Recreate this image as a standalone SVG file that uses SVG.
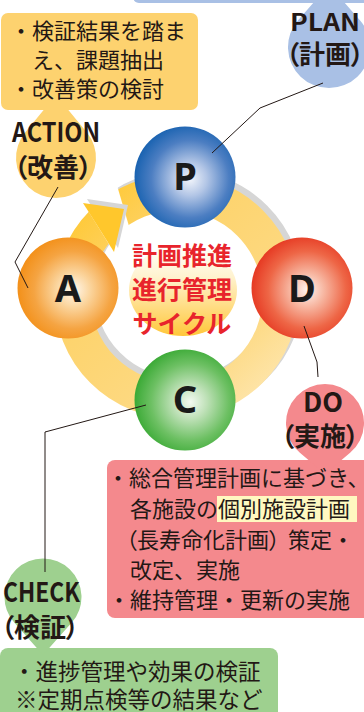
<svg xmlns="http://www.w3.org/2000/svg" width="364" height="712" viewBox="0 0 364 712">
<defs>
<style>
.jp{font-family:"Noto Sans CJK JP","Noto Sans",sans-serif;fill:#231815;}
.b22{font-size:22px;}
.lbl{font-family:"Noto Sans CJK JP","Noto Sans",sans-serif;font-weight:700;fill:#231815;}
.palt{font-feature-settings:"palt" 1;}
.conn{fill:none;stroke:#231815;stroke-width:1;}
.letter{font-family:"Noto Sans","Liberation Sans",sans-serif;font-weight:700;font-size:38px;fill:#1a1a1a;text-anchor:middle;}
.red{font-family:"Noto Sans CJK JP",sans-serif;font-weight:700;font-size:25px;fill:#E8242C;text-anchor:middle;}
</style>
<linearGradient id="band" gradientUnits="userSpaceOnUse" x1="80" y1="190" x2="280" y2="400">
<stop offset="0" stop-color="#FFC72C"/><stop offset="0.3" stop-color="#FDD36B"/><stop offset="0.75" stop-color="#FDDA85"/><stop offset="1" stop-color="#FEE8B5"/>
</linearGradient>
<linearGradient id="ctr" x1="0" y1="0" x2="0" y2="1">
<stop offset="0" stop-color="#FFFFFF"/><stop offset="0.35" stop-color="#FFF3D0"/><stop offset="1" stop-color="#FFC73A"/>
</linearGradient>
<radialGradient id="gP" cx="0.55" cy="0.52" r="0.55"><stop offset="0" stop-color="#F2F5FB"/><stop offset="0.3" stop-color="#B3C6E6"/><stop offset="0.7" stop-color="#4C7EC2"/><stop offset="1" stop-color="#1A63B1"/></radialGradient>
<radialGradient id="gA" cx="0.55" cy="0.52" r="0.55"><stop offset="0" stop-color="#FFF8EE"/><stop offset="0.3" stop-color="#FBD6A0"/><stop offset="0.7" stop-color="#F5A442"/><stop offset="1" stop-color="#F39019"/></radialGradient>
<radialGradient id="gD" cx="0.55" cy="0.52" r="0.55"><stop offset="0" stop-color="#FFF3EE"/><stop offset="0.3" stop-color="#F7B8A3"/><stop offset="0.7" stop-color="#EE6646"/><stop offset="1" stop-color="#E63A23"/></radialGradient>
<radialGradient id="gC" cx="0.55" cy="0.52" r="0.55"><stop offset="0" stop-color="#F4FAF2"/><stop offset="0.3" stop-color="#BFE1B8"/><stop offset="0.7" stop-color="#6DC063"/><stop offset="1" stop-color="#3BAA36"/></radialGradient>
</defs>
<rect width="364" height="712" fill="#FFFFFF"/>

<g id="cycle-ring">
<circle cx="181" cy="292" r="104" fill="none" stroke="#D6D6D6" stroke-width="36"/>
<circle cx="176.5" cy="296.5" r="104" fill="none" stroke="url(#band)" stroke-width="36"/>
<polygon points="70,182 116,182 131,233 117,257" fill="#FFFFFF"/>
<polygon points="87,199 128,205 118,248" fill="#D6D6D6"/>
<polygon points="83,203 124,209 114,252" fill="#FFC72C"/>
</g>

<g id="center-title">
<ellipse cx="183" cy="290" rx="54" ry="46" fill="url(#ctr)"/>
<text class="red" x="182" y="265">計画推進</text>
<text class="red" x="182" y="299">進行管理</text>
<text class="red" x="182" y="333">サイクル</text>
</g>

<g id="node-P"><circle cx="185" cy="177" r="50.5" fill="url(#gP)"/><text class="letter" x="185" y="190">P</text></g>
<g id="node-A"><circle cx="68" cy="288" r="50.5" fill="url(#gA)"/><text class="letter" x="68" y="302">A</text></g>
<g id="node-D"><circle cx="302" cy="288" r="50.5" fill="url(#gD)"/><text class="letter" x="302" y="302">D</text></g>
<g id="node-C"><circle cx="185" cy="400" r="50.5" fill="url(#gC)"/><text class="letter" x="185" y="413">C</text></g>

<g id="plan-label">
<rect x="133" y="-20" width="240" height="23" rx="6" fill="#A9C0E5"/>
<path d="M329,-15 L359.7,19.9 A41 41 0 1 1 298.3,19.9 Z" fill="#A9C0E5"/>
<text class="lbl" x="290" y="31" font-size="24" textLength="70" lengthAdjust="spacingAndGlyphs">PLAN</text>
<text class="lbl palt" x="286" y="64" font-size="26">（計画）</text>
</g>

<g id="action-label">
<rect x="1" y="13" width="197" height="97" rx="7" fill="#FDD26F"/>
<path d="M56,95 L86.9,132.6 A40 40 0 1 1 25.1,132.6 Z" fill="#FDD26F"/>
<text class="jp b22" x="10" y="39">・検証結果を踏ま</text>
<text class="jp b22" x="32" y="68">え、課題抽出</text>
<text class="jp b22" x="10" y="97">・改善策の検討</text>
<text class="lbl" x="12" y="141.5" font-size="27" textLength="88" lengthAdjust="spacingAndGlyphs">ACTION</text>
<text class="lbl palt" x="14" y="177" font-size="26">（改善）</text>
</g>

<g id="do-label">
<rect x="107" y="460" width="265" height="158" rx="8" fill="#F4898D"/>
<path d="M325,474 L299.9,452.8 A39 39 0 1 1 350.1,452.8 Z" fill="#F4898D"/>
<rect x="217" y="496" width="140" height="26" fill="#FFF8C0"/>
<text class="lbl" x="303" y="412" font-size="27" textLength="40" lengthAdjust="spacingAndGlyphs">DO</text>
<text class="lbl palt" x="281" y="446" font-size="26">（実施）</text>
<text class="jp b22" x="107" y="486">・総合管理計画に基づき、</text>
<text class="jp b22" x="130" y="517">各施設の個別施設計画</text>
<text class="jp b22" x="126" y="548"><tspan class="palt">（</tspan>長寿命化計画<tspan class="palt">）</tspan><tspan dx="8">策定・</tspan></text>
<text class="jp b22" x="130" y="578">改定、実施</text>
<text class="jp b22" x="108" y="608">・維持管理・更新の実施</text>
</g>

<g id="check-label">
<rect x="0" y="648" width="278" height="80" rx="8" fill="#9ED08F"/>
<path d="M43,655 L14.2,622.6 A38.5 38.5 0 1 1 71.8,622.6 Z" fill="#9ED08F"/>
<text class="lbl" x="3" y="602" font-size="27" textLength="77" lengthAdjust="spacingAndGlyphs">CHECK</text>
<text class="lbl palt" x="1" y="637" font-size="26">（検証）</text>
<text class="jp" x="13" y="680" font-size="22.5">・進捗管理や効果の検証</text>
<text class="jp" x="15" y="708" font-size="22.5">※定期点検等の結果など</text>
</g>

<g id="connectors">
<polyline class="conn" points="323,83 260,108 212,153"/>
<polyline class="conn" points="58,187 15,262 28,288"/>
<polyline class="conn" points="304,326 317,362 318,377"/>
<polyline class="conn" points="146,405 45,432 45,572"/>
</g>
</svg>
